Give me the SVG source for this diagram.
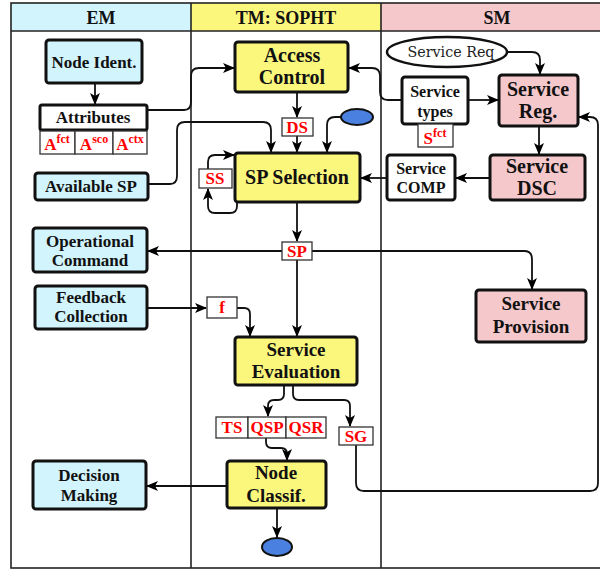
<svg xmlns="http://www.w3.org/2000/svg" width="600" height="572" viewBox="0 0 600 572">
<defs>
<marker id="ah" viewBox="0 0 12 10" refX="11" refY="5" markerWidth="12" markerHeight="10" markerUnits="userSpaceOnUse" orient="auto">
<path d="M0,0 L12,5 L0,10 L3,5 z" fill="#000"/>
</marker>
<style>
.t{font-family:"Liberation Serif","Times New Roman",serif;font-weight:bold;text-anchor:middle;fill:#111}
.em{fill:#d2f4fd;stroke:#111;stroke-width:3}
.tm{fill:#fbf77d;stroke:#111;stroke-width:3}
.sm{fill:#f5c8cb;stroke:#111;stroke-width:3}
.wh{fill:#fff;stroke:#111;stroke-width:3}
.lb{fill:#fff;stroke:#333;stroke-width:1.3}
.lt{font-family:"Liberation Serif","Times New Roman",serif;font-weight:bold;text-anchor:middle;fill:#f00;font-size:17px}
.c{fill:none;stroke:#111;stroke-width:1.8}
.a{marker-end:url(#ah)}
.blue{fill:#4a80e0;stroke:#111;stroke-width:2}
</style>
</defs>
<g id="lanes">
<rect x="11" y="3" width="180" height="28" fill="#d2f4fd"/>
<rect x="191" y="3" width="190" height="28" fill="#fbf77d"/>
<rect x="381" y="3" width="230" height="28" fill="#f5c8cb"/>
<rect x="11" y="3" width="600" height="565" fill="none" stroke="#222" stroke-width="1.6"/>
<line x1="11" y1="31" x2="611" y2="31" stroke="#222" stroke-width="1.6"/>
<line x1="191" y1="3" x2="191" y2="568" stroke="#222" stroke-width="1.6"/>
<line x1="381" y1="3" x2="381" y2="568" stroke="#222" stroke-width="1.6"/>
<text class="t" x="101" y="24" font-size="18">EM</text>
<text class="t" x="286" y="24" font-size="18">TM: SOPHT</text>
<text class="t" x="497" y="24" font-size="18">SM</text>
</g>
<g id="connectors">
<path class="c a" d="M95,83 V104"/>
<path class="c a" d="M147,110 H184 Q191,110 191,102 V76 Q191,68 199,68 H234"/>
<path class="c a" d="M148,184 H170 Q177,184 177,176 V130 Q177,122 185,122 H263 Q271,122 271,130 V152"/>
<path class="c a" d="M297,92 V117"/>
<path class="c a" d="M297,136 V152"/>
<path class="c a" d="M341,117 H335 Q327,117 327,125 V152"/>
<path class="c a" d="M237,202 V206 Q237,213 230,213 H215 Q208,213 208,206 V189"/>
<path class="c a" d="M208,169 V162 Q208,155 215,155 H234"/>
<path class="c a" d="M402,100 H388 Q380,100 380,92 V76 Q380,68 372,68 H349"/>
<path class="c a" d="M508,52 H532 Q540,52 540,60 V74"/>
<path class="c a" d="M468,100 H498"/>
<path class="c a" d="M539,126 V154"/>
<path class="c a" d="M490,178 H456"/>
<path class="c a" d="M387,178 H361"/>
<path class="c a" d="M297,202 V241"/>
<path class="c a" d="M282,251 H148"/>
<path class="c a" d="M312,251 H524 Q532,251 532,259 V289"/>
<path class="c a" d="M297,260 V336"/>
<path class="c a" d="M147,308 H206"/>
<path class="c a" d="M237,308 H244 Q250,308 250,314 V336"/>
<path class="c a" d="M284,385 V394 Q284,400 278,400 H274 Q268,400 268,406 V416"/>
<path class="c a" d="M293,385 V394 Q293,400 299,400 H344 Q350,400 350,406 V426"/>
<path class="c a" d="M266,438 V442 Q266,448 272,448 H281 Q287,448 287,454 V460"/>
<path class="c a" d="M277,508 V537"/>
<path class="c a" d="M227,486 H147"/>
<path class="c a" d="M356,445 V483 Q356,491 364,491 H590 Q598,491 598,483 V125 Q598,117 590,117 H579"/>
</g>
<g id="node-ident">
<rect class="em" x="46" y="40" width="96" height="43" rx="3"/>
<text class="t" x="94" y="68" font-size="17">Node Ident.</text>
</g>
<g id="attributes">
<rect class="wh" x="40" y="105" width="107" height="25" rx="2"/>
<text class="t" x="93" y="123" font-size="17">Attributes</text>
<rect class="lb" x="40" y="131" width="35" height="23"/>
<rect class="lb" x="75" y="131" width="38" height="23"/>
<rect class="lb" x="113" y="131" width="34" height="23"/>
<text class="lt" x="57" y="150" font-size="19px">A<tspan font-size="12" dy="-7">fct</tspan></text>
<text class="lt" x="94" y="150" font-size="19px">A<tspan font-size="12" dy="-7">sco</tspan></text>
<text class="lt" x="130" y="150" font-size="19px">A<tspan font-size="12" dy="-7">ctx</tspan></text>
</g>
<g id="available-sp">
<rect class="em" x="35" y="173" width="113" height="27" rx="3"/>
<text class="t" x="91" y="192" font-size="17">Available SP</text>
</g>
<g id="operational-command">
<rect class="em" x="33" y="228" width="114" height="44" rx="3"/>
<text class="t" x="90" y="247" font-size="17">Operational</text>
<text class="t" x="90" y="266" font-size="17">Command</text>
</g>
<g id="feedback-collection">
<rect class="em" x="35" y="286" width="112" height="43" rx="3"/>
<text class="t" x="91" y="303" font-size="17">Feedback</text>
<text class="t" x="91" y="322" font-size="17">Collection</text>
</g>
<g id="decision-making">
<rect class="em" x="33" y="461" width="113" height="48" rx="3"/>
<text class="t" x="89" y="481" font-size="17">Decision</text>
<text class="t" x="89" y="501" font-size="17">Making</text>
</g>
<g id="access-control">
<rect class="tm" x="235" y="42" width="113" height="50" rx="3"/>
<text class="t" x="292" y="62" font-size="20">Access</text>
<text class="t" x="292" y="84" font-size="20">Control</text>
</g>
<g id="ds">
<rect class="lb" x="282" y="118" width="31" height="18"/>
<text class="lt" x="297" y="133">DS</text>
</g>
<g id="start-ellipse">
<ellipse class="blue" cx="357" cy="117" rx="16" ry="8"/>
</g>
<g id="sp-selection">
<rect class="tm" x="235" y="153" width="125" height="49" rx="3"/>
<text class="t" x="297" y="184" font-size="20">SP Selection</text>
</g>
<g id="ss">
<rect class="lb" x="199" y="169" width="33" height="19"/>
<text class="lt" x="215" y="184">SS</text>
</g>
<g id="sp">
<rect class="lb" x="282" y="242" width="30" height="18"/>
<text class="lt" x="297" y="257">SP</text>
</g>
<g id="f">
<rect class="lb" x="207" y="297" width="30" height="21"/>
<text class="lt" x="222" y="313">f</text>
</g>
<g id="service-evaluation">
<rect class="tm" x="235" y="337" width="122" height="48" rx="3"/>
<text class="t" x="296" y="356" font-size="19">Service</text>
<text class="t" x="296" y="378" font-size="19">Evaluation</text>
</g>
<g id="ts-qsp-qsr">
<rect class="lb" x="216" y="417" width="32" height="21"/>
<rect class="lb" x="248" y="417" width="38" height="21"/>
<rect class="lb" x="286" y="417" width="40" height="21"/>
<text class="lt" x="232" y="433" font-size="16px">TS</text>
<text class="lt" x="267" y="433" font-size="16px">QSP</text>
<text class="lt" x="306" y="433" font-size="16px">QSR</text>
</g>
<g id="sg">
<rect class="lb" x="339" y="427" width="34" height="18"/>
<text class="lt" x="356" y="442">SG</text>
</g>
<g id="node-classif">
<rect class="tm" x="227" y="461" width="99" height="47" rx="3"/>
<text class="t" x="276" y="479" font-size="19">Node</text>
<text class="t" x="276" y="502" font-size="19">Classif.</text>
</g>
<g id="end-ellipse">
<ellipse class="blue" cx="277" cy="547" rx="15" ry="9"/>
</g>
<g id="service-req">
<ellipse cx="447" cy="52" rx="60" ry="15" fill="#fff" stroke="#111" stroke-width="2.5"/>
<text x="451" y="57" font-family="DejaVu Serif, serif" font-size="14" text-anchor="middle" fill="#222" textLength="87" lengthAdjust="spacingAndGlyphs">Service Req</text>
</g>
<g id="service-types">
<rect class="wh" x="402" y="77" width="66" height="47" rx="3"/>
<text class="t" x="435" y="97" font-size="16">Service</text>
<text class="t" x="435" y="117" font-size="16">types</text>
</g>
<g id="sfct">
<rect class="lb" x="418" y="124" width="35" height="23"/>
<text class="lt" x="435" y="144" font-size="19px">S<tspan font-size="12" dy="-7">fct</tspan></text>
</g>
<g id="service-reg">
<rect class="sm" x="499" y="75" width="79" height="51" rx="3"/>
<text class="t" x="538" y="96" font-size="20">Service</text>
<text class="t" x="538" y="118" font-size="20">Reg.</text>
</g>
<g id="service-dsc">
<rect class="sm" x="490" y="155" width="95" height="45" rx="3"/>
<text class="t" x="537" y="173" font-size="20">Service</text>
<text class="t" x="537" y="195" font-size="20">DSC</text>
</g>
<g id="service-comp">
<rect class="wh" x="387" y="155" width="68" height="45" rx="3"/>
<text class="t" x="421" y="174" font-size="16">Service</text>
<text class="t" x="421" y="193" font-size="16">COMP</text>
</g>
<g id="service-provision">
<rect class="sm" x="476" y="290" width="110" height="52" rx="3"/>
<text class="t" x="531" y="310" font-size="19">Service</text>
<text class="t" x="531" y="333" font-size="19">Provision</text>
</g>
</svg>
